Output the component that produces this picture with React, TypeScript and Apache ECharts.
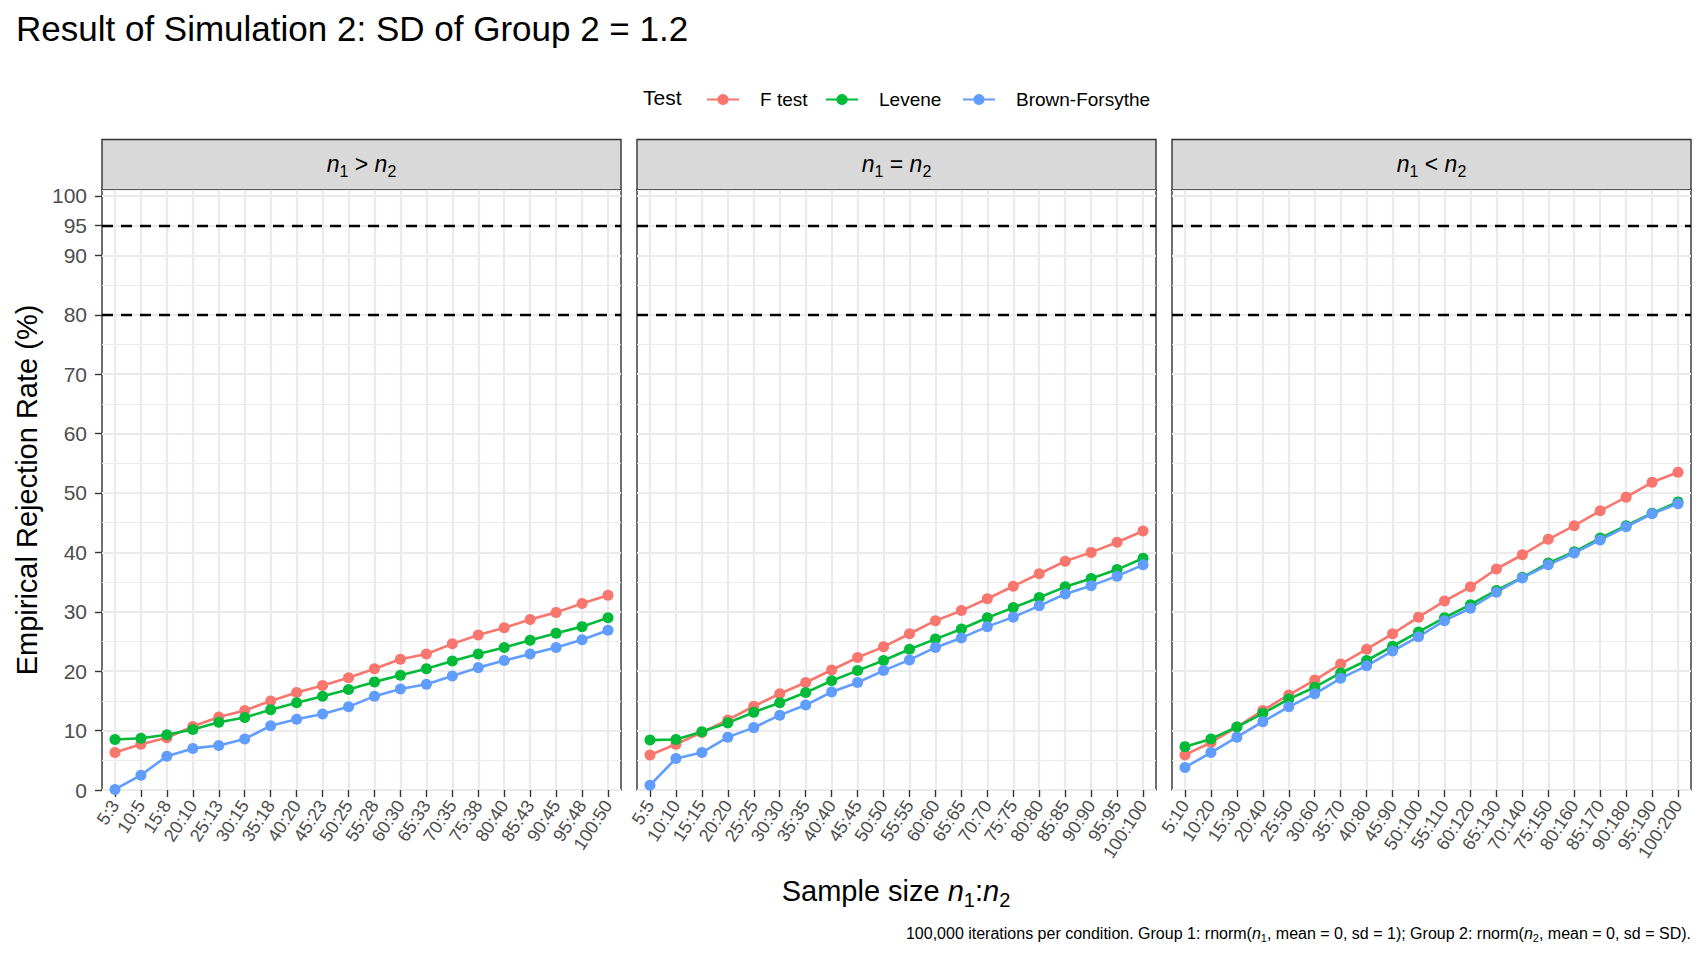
import { useEffect, useRef } from 'react';
import * as echarts from 'echarts';

const FONT = '"Liberation Sans", Arial, Helvetica, sans-serif';

const panelTitles = [
  ['>', 'n1 > n2'],
  ['=', 'n1 = n2'],
  ['<', 'n1 < n2'],
];

const catsGt = ['5:3', '10:5', '15:8', '20:10', '25:13', '30:15', '35:18', '40:20', '45:23', '50:25', '55:28', '60:30', '65:33', '70:35', '75:38', '80:40', '85:43', '90:45', '95:48', '100:50'];
const catsEq = ['5:5', '10:10', '15:15', '20:20', '25:25', '30:30', '35:35', '40:40', '45:45', '50:50', '55:55', '60:60', '65:65', '70:70', '75:75', '80:80', '85:85', '90:90', '95:95', '100:100'];
const catsLt = ['5:10', '10:20', '15:30', '20:40', '25:50', '30:60', '35:70', '40:80', '45:90', '50:100', '55:110', '60:120', '65:130', '70:140', '75:150', '80:160', '85:170', '90:180', '95:190', '100:200'];

// rejection rates (%)
const fGt = [6.3, 7.7, 8.8, 10.7, 12.3, 13.4, 15.0, 16.4, 17.6, 18.9, 20.4, 22.0, 22.9, 24.6, 26.1, 27.3, 28.7, 29.9, 31.4, 32.8];
const leveneGt = [8.5, 8.7, 9.3, 10.2, 11.4, 12.2, 13.5, 14.7, 15.8, 16.9, 18.2, 19.3, 20.4, 21.7, 22.9, 24.0, 25.2, 26.4, 27.5, 29.0];
const bfGt = [0.1, 2.5, 5.7, 7.0, 7.5, 8.6, 10.8, 11.9, 12.8, 14.0, 15.8, 17.0, 17.8, 19.2, 20.6, 21.8, 22.9, 24.0, 25.3, 26.9];

const fEq = [5.9, 7.7, 9.7, 11.8, 14.1, 16.2, 18.1, 20.2, 22.3, 24.1, 26.3, 28.5, 30.2, 32.2, 34.3, 36.4, 38.5, 40.0, 41.7, 43.6];
const leveneEq = [8.4, 8.5, 9.8, 11.3, 13.1, 14.7, 16.4, 18.4, 20.1, 21.8, 23.7, 25.4, 27.1, 29.0, 30.7, 32.4, 34.2, 35.6, 37.1, 39.0];
const bfEq = [0.8, 5.3, 6.3, 8.9, 10.5, 12.6, 14.3, 16.5, 18.1, 20.1, 21.9, 24.0, 25.6, 27.5, 29.1, 31.0, 33.0, 34.4, 36.0, 37.9];

const fLt = [5.9, 8.0, 10.6, 13.4, 16.0, 18.5, 21.2, 23.7, 26.3, 29.1, 31.8, 34.2, 37.2, 39.6, 42.2, 44.5, 47.0, 49.3, 51.8, 53.5];
const leveneLt = [7.3, 8.6, 10.6, 12.9, 15.3, 17.3, 19.7, 21.8, 24.2, 26.6, 29.0, 31.2, 33.6, 35.8, 38.2, 40.1, 42.4, 44.5, 46.6, 48.5];
const bfLt = [3.8, 6.3, 8.9, 11.5, 14.0, 16.2, 18.8, 20.9, 23.4, 25.8, 28.5, 30.6, 33.3, 35.7, 37.9, 39.9, 42.1, 44.3, 46.5, 48.2];

const yTicks = [0, 10, 20, 30, 40, 50, 60, 70, 80, 90, 95, 100];
const refLines = [80, 95];

const testNames = ['F test', 'Levene', 'Brown-Forsythe'];
const testColors = ['#F8766D', '#00BA38', '#619CFF'];

const panels = [
  { cats: catsGt, values: [fGt, leveneGt, bfGt] },
  { cats: catsEq, values: [fEq, leveneEq, bfEq] },
  { cats: catsLt, values: [fLt, leveneLt, bfLt] },
];

const PANEL_LEFT = [102, 637, 1172];
const PANEL_W = 519;
const PANEL_TOP = 190;
const PANEL_H = 600;
const STRIP_TOP = 139.5;

const stripRich = {
  i: { fontFamily: FONT, fontSize: 23, fontStyle: 'italic', color: '#1a1a1a' },
  t: { fontFamily: FONT, fontSize: 23, color: '#1a1a1a' },
  s: { fontFamily: FONT, fontSize: 16, color: '#1a1a1a', padding: [15, 0, 0, 0] },
};

const App = () => {
  const chartRef = useRef<HTMLDivElement>(null);

  useEffect(() => {
    if (!chartRef.current) return;
    const chart = echarts.init(chartRef.current, undefined, { renderer: 'svg' });

    const grids: any[] = [];
    const xAxes: any[] = [];
    const yAxes: any[] = [];
    const series: any[] = [];
    const graphics: any[] = [];

    panels.forEach((p, i) => {
      grids.push({
        left: PANEL_LEFT[i],
        top: PANEL_TOP,
        width: PANEL_W,
        height: PANEL_H,
        show: true,
        backgroundColor: '#ffffff',
        borderColor: '#333333',
        borderWidth: 1.4,
        containLabel: false,
        outerBoundsMode: 'none',
      });
      xAxes.push({
        type: 'category',
        gridIndex: i,
        data: p.cats,
        boundaryGap: true,
        axisLine: { show: false },
        axisTick: {
          show: true,
          alignWithLabel: true,
          interval: 0,
          length: 7,
          lineStyle: { color: '#333333', width: 1.4 },
        },
        axisLabel: {
          interval: 0,
          rotate: 57,
          margin: 12,
          fontSize: 18,
          color: '#4d4d4d',
          fontFamily: FONT,
        },
        splitLine: {
          show: true,
          alignWithLabel: true,
          interval: 0,
          lineStyle: { color: '#ebebeb', width: 2.2 },
        },
      });
    });

    // major y axes (labels, ticks, major grid)
    panels.forEach((_, i) => {
      yAxes.push({
        type: 'value',
        gridIndex: i,
        min: 0,
        max: 101,
        interval: 10,
        axisLine: { show: false },
        axisTick: {
          show: i === 0,
          length: 7,
          customValues: yTicks,
          lineStyle: { color: '#333333', width: 1.4 },
        },
        axisLabel: {
          show: i === 0,
          customValues: yTicks,
          margin: 15,
          fontSize: 21,
          color: '#4d4d4d',
          fontFamily: FONT,
          formatter: (v: number) => (yTicks.includes(v) ? String(v) : ''),
        },
        splitLine: { show: true, lineStyle: { color: '#ebebeb', width: 2.2 } },
      });
    });
    // minor y grid
    panels.forEach((_, i) => {
      yAxes.push({
        type: 'value',
        gridIndex: i,
        min: 0,
        max: 101,
        interval: 5,
        axisLine: { show: false },
        axisTick: { show: false },
        axisLabel: { show: false },
        splitLine: { show: true, lineStyle: { color: '#ebebeb', width: 1.1 } },
      });
    });

    panels.forEach((p, i) => {
      testNames.forEach((name, k) => {
        series.push({
          name,
          type: 'line',
          xAxisIndex: i,
          yAxisIndex: i,
          data: p.values[k],
          symbol: 'circle',
          symbolSize: 11,
          lineStyle: { color: testColors[k], width: 2.6 },
          itemStyle: { color: testColors[k] },
          emphasis: { disabled: true },
          silent: true,
          markLine:
            k === 0
              ? {
                  silent: true,
                  symbol: ['none', 'none'],
                  label: { show: false },
                  emphasis: { disabled: true },
                  lineStyle: { color: '#000000', type: [11, 8], width: 2.4 },
                  data: refLines.map((v) => ({ yAxis: v })),
                }
              : undefined,
        });
      });

      const x0 = PANEL_LEFT[i];
      graphics.push({
        type: 'rect',
        shape: { x: x0, y: STRIP_TOP, width: PANEL_W, height: PANEL_TOP - STRIP_TOP },
        style: { fill: '#d9d9d9', stroke: '#333333', lineWidth: 1.4 },
      });
      graphics.push({
        type: 'text',
        x: x0 + PANEL_W / 2,
        y: (STRIP_TOP + PANEL_TOP) / 2 - 1,
        style: {
          text: `{i|n}{s|1}{t| ${panelTitles[i][0]} }{i|n}{s|2}`,
          rich: stripRich,
          align: 'center',
          verticalAlign: 'middle',
        },
      });
    });

    const legendLefts = [706, 825, 962];
    const legends = testNames.map((name, k) => ({
      data: [{ name }],
      left: legendLefts[k],
      top: 90,
      padding: 0,
      itemWidth: 32,
      itemHeight: 14,
      selectedMode: false,
      textStyle: { fontSize: 19, color: '#000000', fontFamily: FONT, padding: [0, 0, 0, 16] },
    }));

    graphics.push(
      {
        type: 'text',
        x: 16,
        y: 28,
        style: {
          text: 'Result of Simulation 2: SD of Group 2 = 1.2',
          fontFamily: FONT,
          fontSize: 35,
          fill: '#000000',
          align: 'left',
          verticalAlign: 'middle',
        },
      },
      {
        type: 'text',
        x: 643,
        y: 97,
        style: {
          text: 'Test',
          fontFamily: FONT,
          fontSize: 21,
          fill: '#000000',
          align: 'left',
          verticalAlign: 'middle',
        },
      },
      {
        type: 'text',
        x: 27,
        y: PANEL_TOP + PANEL_H / 2,
        rotation: Math.PI / 2,
        style: {
          text: 'Empirical Rejection Rate (%)',
          fontFamily: FONT,
          fontSize: 29,
          fill: '#000000',
          align: 'center',
          verticalAlign: 'middle',
        },
      },
      {
        type: 'text',
        x: 896,
        y: 891,
        style: {
          text: '{t|Sample size }{i|n}{s|1}{t|:}{i|n}{s|2}',
          rich: {
            t: { fontFamily: FONT, fontSize: 29, color: '#000000' },
            i: { fontFamily: FONT, fontSize: 29, fontStyle: 'italic', color: '#000000' },
            s: { fontFamily: FONT, fontSize: 20, color: '#000000', padding: [18, 0, 0, 0] },
          },
          align: 'center',
          verticalAlign: 'middle',
        },
      },
      {
        type: 'text',
        x: 1691,
        y: 933,
        style: {
          text:
            '{t|100,000 iterations per condition. Group 1: rnorm(}{i|n}{s|1}{t|, mean = 0, sd = 1); Group 2: rnorm(}{i|n}{s|2}{t|, mean = 0, sd = SD).}',
          rich: {
            t: { fontFamily: FONT, fontSize: 16, color: '#000000' },
            i: { fontFamily: FONT, fontSize: 16, fontStyle: 'italic', color: '#000000' },
            s: { fontFamily: FONT, fontSize: 11, color: '#000000', padding: [10, 0, 0, 0] },
          },
          align: 'right',
          verticalAlign: 'middle',
        },
      }
    );

    chart.setOption({
      animation: false,
      backgroundColor: '#ffffff',
      textStyle: { fontFamily: FONT },
      legend: legends,
      grid: grids,
      xAxis: xAxes,
      yAxis: yAxes,
      series,
      graphic: graphics,
    });

    return () => {
      chart.dispose();
    };
  }, []);

  return (
    <div
      ref={chartRef}
      style={{ position: 'fixed', left: 0, top: 0, width: 1708, height: 960, background: '#fff' }}
    />
  );
};

export default App;
